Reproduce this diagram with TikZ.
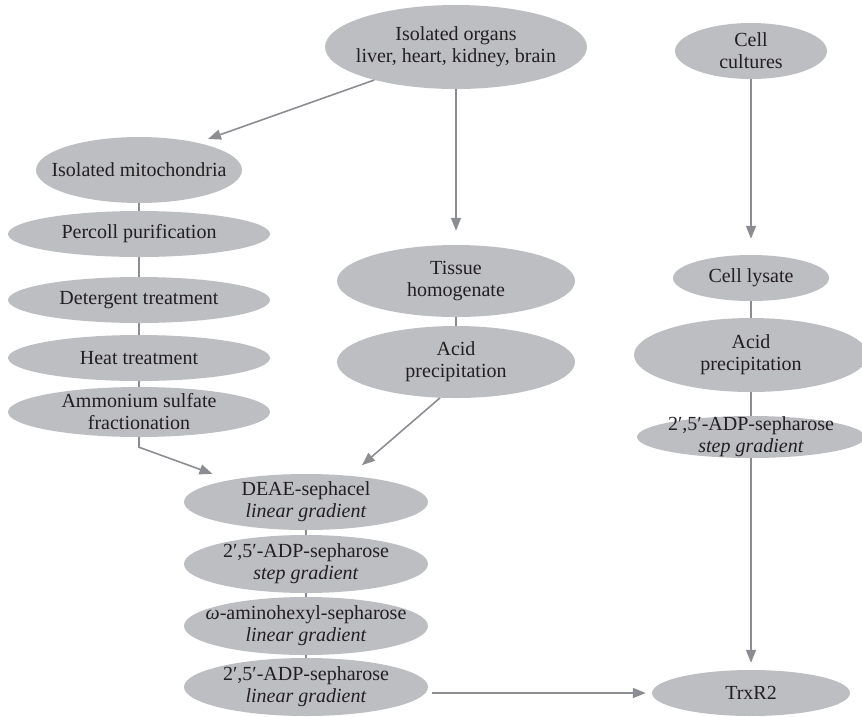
\documentclass[tikz,border=0pt]{standalone}
\usepackage{fontspec}
\setmainfont{Liberation Serif}
\usepackage{tikz}
\usetikzlibrary{shapes.geometric, arrows.meta, positioning}

\definecolor{blobgray}{RGB}{189,190,194}
\definecolor{wiregray}{RGB}{140,141,146}
\definecolor{inkgray}{RGB}{35,31,32}

\begin{document}
\begin{tikzpicture}[x=1pt, y=-1pt,
        blob/.style 2 args={ellipse, fill=blobgray, draw=none, inner sep=0pt,
            minimum width=#1pt, minimum height=#2pt},
        every label/.style={align=center, text=inkgray, inner sep=0pt,
            font=\fontsize{20}{22}\selectfont},
        link/.style={wiregray, line width=1.6pt},
        flow/.style={link, -{Triangle[length=13pt, width=10pt]}}]
        \useasboundingbox (0,0) rectangle (862,716);

        % sources
        \node[blob={262}{84}, label={center:{Isolated organs\\liver, heart, kidney, brain}}] (organs) at (456,47) {};
        \node[blob={152}{56}, label={center:{Cell\\cultures}}] (cells) at (751,51) {};

        % mitochondrial route
        \node[blob={206}{66}, label=center:Isolated mitochondria] (mito) at (139,170) {};
        \node[blob={262}{46}, label=center:Percoll purification] (percoll) at (139,234) {};
        \node[blob={262}{46}, label=center:Detergent treatment] (deterg) at (139,300) {};
        \node[blob={262}{46}, label=center:Heat treatment] (heat) at (139,358) {};
        \node[blob={262}{50}, label={center:{Ammonium sulfate\\fractionation}}] (ammon) at (139,412) {};

        % tissue route
        \node[blob={238}{72}, label={center:{Tissue\\homogenate}}] (tissue) at (456,281) {};
        \node[blob={238}{72}, label={center:{Acid\\precipitation}}] (acid) at (456,362) {};

        % columns
        \node[blob={244}{56}, label={center:{DEAE-sephacel\\\textit{linear gradient}}}] (deae) at (306,502) {};
        \node[blob={244}{58}, label={center:{2′,5′-ADP-sepharose\\\textit{step gradient}}}] (adpstep) at (306,564) {};
        \node[blob={244}{58}, label={center:{\textit{ω}-aminohexyl-sepharose\\\textit{linear gradient}}}] (amino) at (306,626) {};
        \node[blob={244}{58}, label={center:{2′,5′-ADP-sepharose\\\textit{linear gradient}}}] (adplin) at (306,687) {};

        % cell culture route
        \node[blob={156}{46}, label=center:Cell lysate] (lysate) at (751,278) {};
        \node[blob={234}{74}, label={center:{Acid\\precipitation}}] (cellacid) at (751,355) {};
        \node[blob={228}{42}, label={center:{2′,5′-ADP-sepharose\\\textit{step gradient}}}] (cellstep) at (751,437) {};

        \node[blob={198}{46}, label=center:TrxR2] (trxr) at (751,693) {};

        \foreach \a/\b in {mito/percoll, percoll/deterg, deterg/heat, heat/ammon,
            tissue/acid, deae/adpstep, adpstep/amino, amino/adplin,
            lysate/cellacid, cellacid/cellstep}
            \draw[link] (\a) -- (\b);

        \draw[flow, shorten >=11pt] (organs.202) -- (mito.25);
        \draw[flow, shorten >=14pt] (organs) -- (tissue);
        \draw[flow, shorten >=16pt] (cells) -- (lysate);
        \draw[flow, shorten >=18pt] (ammon.south) -- ++(0,10) -- (deae.164);
        \draw[flow, shorten >=16pt] (acid.246) -- (deae.31);
        \draw[flow, shorten >=7pt] (cellstep) -- (trxr);
        \draw[flow, shorten <=4pt, shorten >=6pt] (adplin.east |- trxr.west) -- (trxr.west);
\end{tikzpicture}
\end{document}
